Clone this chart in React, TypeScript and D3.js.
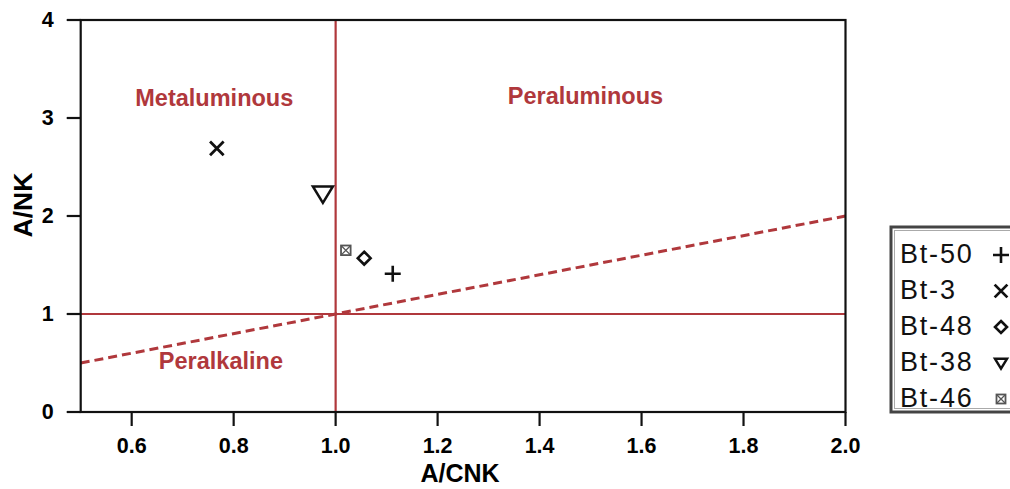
import * as d3 from "d3";

// sample points (A/CNK, A/NK)
const samples = ["Bt-50", "Bt-3", "Bt-48", "Bt-38", "Bt-46"];
const acnk = [1.112, 0.767, 1.056, 0.975, 1.02];
const ank = [1.41, 2.69, 1.57, 2.23, 1.65];
const symbols = ["plus", "cross", "diamond", "triangle", "boxcross"];

const xTicks = [0.6, 0.8, 1.0, 1.2, 1.4, 1.6, 1.8, 2.0];
const yTicks = [0, 1, 2, 3, 4];

const fields = [
  { name: "Metaluminous", x: 0.762, y: 3.2 },
  { name: "Peraluminous", x: 1.49, y: 3.22 },
  { name: "Peralkaline", x: 0.775, y: 0.52 },
];

const RED = "#b0383c";
const FONT = "'Liberation Sans', Arial, sans-serif";

function Marker({ type, x, y, s }: { type: string; x: number; y: number; s: number }) {
  const h = s / 2;
  if (type === "plus")
    return <path d={`M${x - h},${y}H${x + h}M${x},${y - h}V${y + h}`} stroke="#111" strokeWidth={2.6} fill="none" />;
  if (type === "cross") {
    const k = h * 0.85;
    return <path d={`M${x - k},${y - k}L${x + k},${y + k}M${x - k},${y + k}L${x + k},${y - k}`} stroke="#111" strokeWidth={2.8} fill="none" />;
  }
  if (type === "diamond") {
    const k = h * 0.8;
    return <path d={`M${x},${y - k}L${x + k},${y}L${x},${y + k}L${x - k},${y}Z`} stroke="#111" strokeWidth={2.6} fill="white" />;
  }
  if (type === "triangle") {
    return <path d={`M${x - h},${y - h * 0.7}H${x + h}L${x},${y + h * 0.95}Z`} stroke="#111" strokeWidth={2.5} fill="white" strokeLinejoin="miter" />;
  }
  const k = h * 0.6;
  return (
    <g stroke="#555" strokeWidth={1.3} fill="white">
      <rect x={x - k} y={y - k} width={2 * k} height={2 * k} strokeWidth={1.8} />
      <path d={`M${x - k},${y - k}L${x + k},${y + k}M${x - k},${y + k}L${x + k},${y - k}`} />
    </g>
  );
}

export default function App() {
  const width = 1010;
  const height = 489;
  const left = 80.7;
  const right = 845.5;
  const top = 20;
  const bottom = 412;

  const x = d3.scaleLinear().domain([0.5, 2.0]).range([left, right]);
  const y = d3.scaleLinear().domain([0, 4]).range([bottom, top]);

  const legendY = d3.scalePoint<string>().domain(samples).range([254, 398]);
  const legendSize: Record<string, number> = { plus: 16, cross: 15, diamond: 15, triangle: 12, boxcross: 15 };

  return (
    <svg width={width} height={height} style={{ position: "absolute", left: 0, top: 0 }} fontFamily={FONT}>
      <rect width={width} height={height} fill="white" />

      {/* boundaries */}
      <line x1={x(1)} x2={x(1)} y1={y(4)} y2={y(0)} stroke={RED} strokeWidth={2.2} />
      <line x1={x(0.5)} x2={x(2)} y1={y(1)} y2={y(1)} stroke={RED} strokeWidth={2.2} />
      <line x1={x(0.5)} y1={y(0.5)} x2={x(2)} y2={y(2)} stroke={RED} strokeWidth={3} strokeDasharray="9,5" />

      {fields.map((f) => (
        <text key={f.name} x={x(f.x)} y={y(f.y)} textAnchor="middle" dominantBaseline="central" fill={RED} fontWeight="bold" fontSize={23.5}>
          {f.name}
        </text>
      ))}

      {/* frame */}
      <rect x={left} y={top} width={right - left} height={bottom - top} fill="none" stroke="#111" strokeWidth={2.2} />

      {/* y axis */}
      {yTicks.map((t) => (
        <g key={t}>
          <line x1={left - 14} x2={left} y1={y(t)} y2={y(t)} stroke="#111" strokeWidth={2.2} />
          <text x={left - 27} y={y(t)} textAnchor="end" dominantBaseline="central" fontWeight="bold" fontSize={21.5}>
            {t}
          </text>
        </g>
      ))}
      <text transform={`translate(23,205) rotate(-90)`} textAnchor="middle" dominantBaseline="central" fontWeight="bold" fontSize={26.5}>
        A/NK
      </text>

      {/* x axis */}
      {xTicks.map((t) => (
        <g key={t}>
          <line x1={x(t)} x2={x(t)} y1={bottom} y2={bottom + 14} stroke="#111" strokeWidth={2.2} />
          <text x={x(t)} y={bottom + 34} textAnchor="middle" dominantBaseline="central" fontWeight="bold" fontSize={21.5}>
            {d3.format(".1f")(t)}
          </text>
        </g>
      ))}
      <text x={(left + right) / 2 - 3} y={473} textAnchor="middle" dominantBaseline="central" fontWeight="bold" fontSize={25}>
        A/CNK
      </text>

      {/* points */}
      {samples.map((s, i) => (
        <Marker key={s} type={symbols[i]} x={x(acnk[i])} y={y(ank[i])} s={symbols[i] === "triangle" ? 20 : 16} />
      ))}

      {/* legend */}
      <rect x={891} y={227} width={130} height={185} fill="white" stroke="#444" strokeWidth={3} />
      <rect x={894.5} y={230.5} width={130} height={178} fill="none" stroke="#aaa" strokeWidth={1} />
      {samples.map((s, i) => (
        <g key={s}>
          <text x={900} y={legendY(s)!} dominantBaseline="central" fontSize={27} letterSpacing={1.8} fill="#111">
            {s}
          </text>
          <Marker type={symbols[i]} x={1001} y={legendY(s)! + 1} s={legendSize[symbols[i]]} />
        </g>
      ))}
    </svg>
  );
}
